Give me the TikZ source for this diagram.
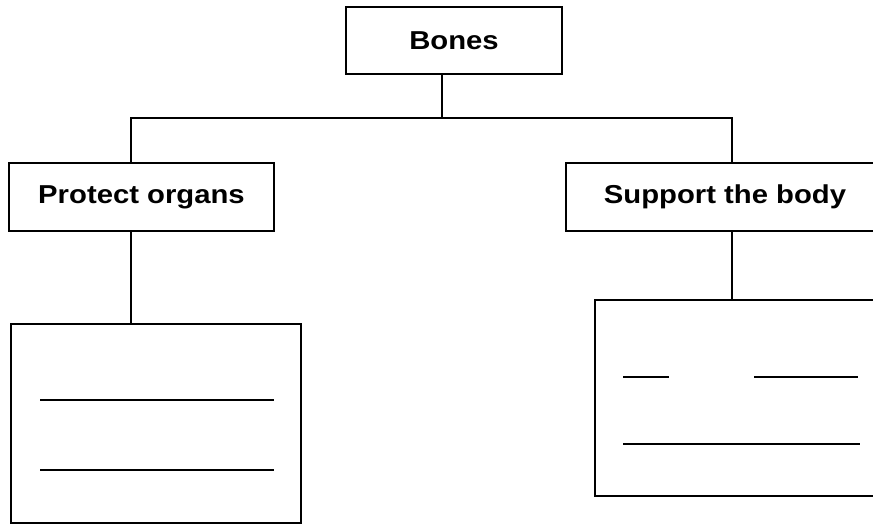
\documentclass[tikz,border=0pt]{standalone}
\usepackage{fontspec}
\newfontfamily\labelfont[FakeStretch=1.13]{Liberation Sans}
\usetikzlibrary{positioning}

\begin{document}
\begin{tikzpicture}[x=1bp, y=-1bp,
		box/.style={draw, rectangle, line width=1.6bp, inner sep=0pt, font=\labelfont\bfseries\fontsize{26}{30}\selectfont},
		link/.style={line width=1.3bp},
		blank/.style={line width=1.8bp}]
				\useasboundingbox (0,0) rectangle (873,524);
				\clip (0,0) rectangle (873,524);
				\begin{scope}
					\node[box, minimum width=216bp, minimum height=67bp] (bones) at (454,40.5) {Bones};
					\node[box, minimum width=265bp, minimum height=68bp] (protect) at (141.5,197) {Protect organs};
					\node[box, minimum width=318bp, minimum height=68bp] (support) at (725,197) {Support the body};
					\node[box, minimum width=290bp, minimum height=199bp] (protectlist) at (156,423.5) {};
					\node[box, minimum width=295bp, minimum height=196bp] (supportlist) at (742.5,398) {};

					\coordinate (split) at (442,118);
					\coordinate (lt) at (131,118);
					\coordinate (rt) at (732,118);

					\draw[link] (bones.south -| split) -- (split); % bones to the bar
					\draw[link] (protect.north -| lt) -- (lt) -- (rt) -- (support.north -| rt); % the bar
					\draw[link] (protect.south -| lt) -- (protectlist.north -| lt); % to the left list
					\draw[link] (support.south -| rt) -- (supportlist.north -| rt); % to the right list

					\draw[blank] (40,400) -- (274,400);
					\draw[blank] (40,470) -- (274,470);
					\draw[blank] (623,377) -- (669,377);
					\draw[blank] (754,377) -- (858,377);
					\draw[blank] (623,444) -- (860,444);
				\end{scope}
			\end{tikzpicture}
\end{document}
